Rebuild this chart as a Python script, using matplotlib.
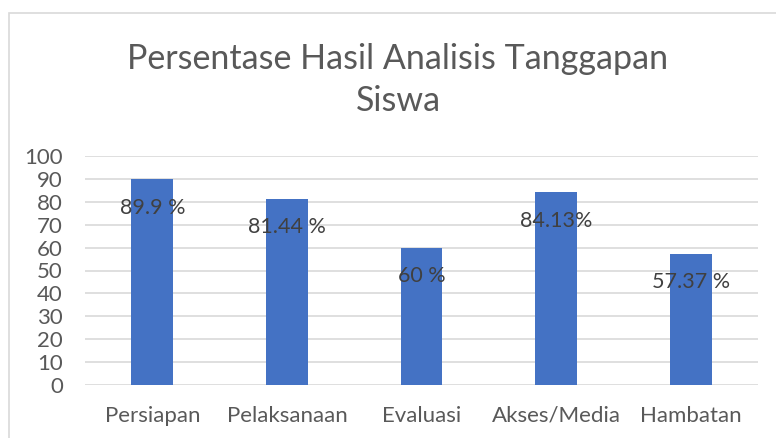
import matplotlib
matplotlib.use("Agg")
import matplotlib.pyplot as plt
from matplotlib.patches import Rectangle

categories = ["Persiapan", "Pelaksanaan", "Evaluasi", "Akses/Media", "Hambatan"]
values = [89.9, 81.44, 60, 84.13, 57.37]
value_labels = ["89.9 %", "81.44 %", "60 %", "84.13%", "57.37 %"]
yticks = list(range(0, 101, 10))
title = "Persentase Hasil Analisis Tanggapan\nSiswa"

plt.rcParams['font.family'] = ['Lato', 'DejaVu Sans']

W, H = 776, 438
fig = plt.figure(figsize=(W / 100, H / 100), dpi=100)
fig.patch.set_facecolor("white")

# chart frame (partially cropped)
fig.add_artist(Rectangle((8.5 / W, -0.1), 1.2, 1 - 12.5 / H + 0.1,
                         transform=fig.transFigure, fill=False,
                         edgecolor="#D9D9D9", linewidth=1.2))

left, right = 85 / W, 758 / W
bottom, top = 1 - 385 / H, 1 - 156 / H
ax = fig.add_axes([left, bottom, right - left, top - bottom])

x = list(range(len(categories)))
ax.bar(x, values, width=0.31, color="#4472C4", zorder=3)
ax.set_xlim(-0.5, len(categories) - 0.5)
ax.set_ylim(0, 100)
ax.set_yticks(yticks)
ax.set_yticklabels([str(t) for t in yticks])
ax.set_xticks(x)
ax.set_xticklabels(categories)
ax.yaxis.grid(True, color="#D9D9D9", linewidth=1.2, zorder=0)
ax.set_axisbelow(True)
for s in ax.spines.values():
    s.set_visible(False)
ax.tick_params(axis="both", length=0, colors="#595959", labelsize=16)
ax.tick_params(axis="y", pad=16)
ax.tick_params(axis="x", pad=15)
for lbl in ax.get_xticklabels() + ax.get_yticklabels():
    lbl.set_color("#595959")

for xi, v, t in zip(x, values, value_labels):
    ax.annotate(t, xy=(xi, v), xytext=(0, -20.5), textcoords="offset points",
                ha="center", va="center", fontsize=15.5, color="#404040", zorder=4)

fig.text(398 / W, 1 - 80 / H, title, ha="center", va="center",
         fontsize=24.5, color="#595959", linespacing=1.4)

fig.savefig("out.png", dpi=100, facecolor="white")
